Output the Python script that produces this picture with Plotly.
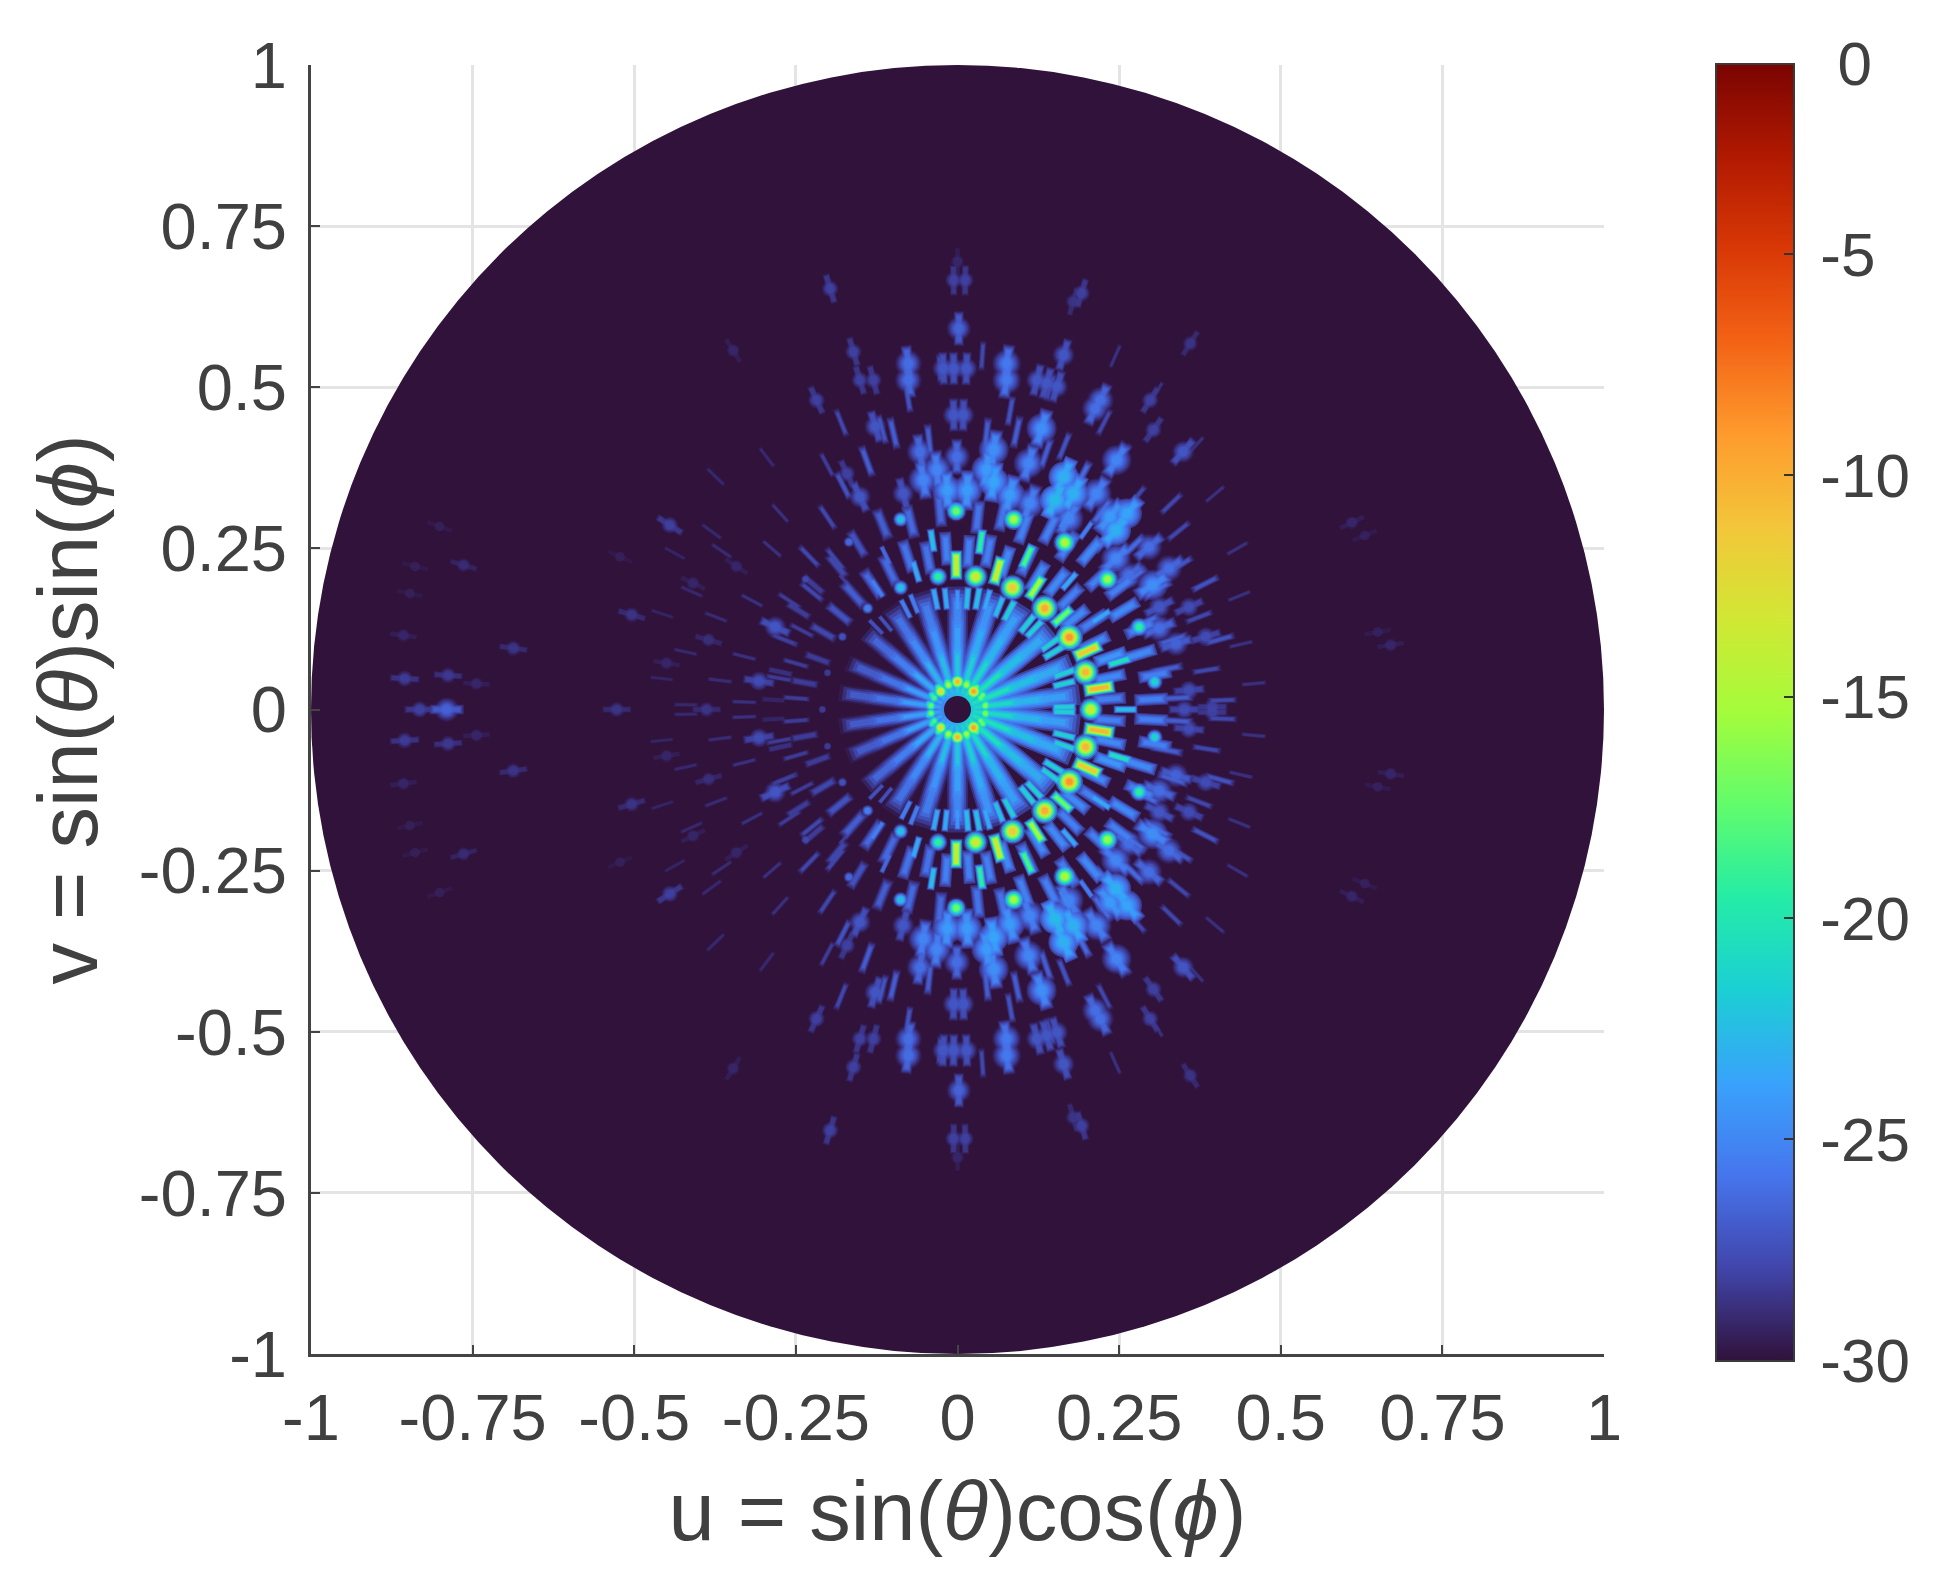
import numpy as np
import plotly.graph_objects as go

# ---- values: upper half only (v >= 0), the pattern mirrors about v = 0
# round lobes: u, v, level in dB
spot_u = [-.002, .087, .166, .232, .281, .305, -.088, -.168, -.235,
          -.030, .028, .085, .135, .173, .198, .206, -.088, -.139, -.178, -.201, -.209]
spot_v = [.308, .295, .259, .202, .128, .043, .295, .260, .202,
          .206, .206, .189, .157, .112, .058, 0, .189, .157, .113, .057, 0]
spot_db = [-17, -15, -14.5, -15.5, -19, -21, -22, -26, -27.5,
           -19, -13, -11, -9.5, -8.5, -10, -13, -22, -25, -27, -28, -28]

# small lobes stretched along the radius
streak_u = [-.002, -.039, .036, .108, .062, .121, .173, .222, .162, .201, .250, .219, .260, .199, .166,
            -.064, -.111, -.124, -.173,
            -.034, -.018, 0, .015, .031, .046, .064, .080, .108, .119, .144, .149, .165, .165, .165,
            -.067, -.080, -.111, -.126]
streak_v = [.224, .262, .260, .237, .215, .189, .199, .144, .144, .091, .074, .033, 0, .278, .295,
            .214, .239, .188, .198,
            .171, .172, .170, .172, .172, .170, .159, .153, .133, .125, .102, .089, .056, .040, .004,
            .164, .156, .133, .128]
streak_db = [-13, -22, -19, -18, -13, -15, -23, -23, -17, -11, -20, -10, -22, -25, -25,
             -23, -26, -25, -28,
             -23, -23, -24, -22, -22, -23, -22, -21, -21, -21, -21, -21, -21, -21, -21,
             -25, -25, -27, -27]

# bright ring around the null at the centre
ring_u = [0, .025, -.026, .043, -.041, -.014, .014, .036, -.036,
          .044, .039, .029, .015, -.015, -.029, -.039, -.044]
ring_v = [.043, .028, .028, .006, .006, .038, .038, .018, .018,
          .008, .022, .034, .042, .042, .034, .022, .008]
ring_db = [-10, -9, -12, -16, -17, -15, -15, -17, -18,
           -18, -17, -17, -18, -18, -18, -19, -20]

# rays leaving the centre: angle in degrees from +u, level in dB
ray_angle = [7, 22, 40, 58, 73, 90, 107, 123, 140, 157, 172]
ray_db = [-23, -22.5, -22.5, -23, -23.5, -24, -24.5, -25, -25.5, -26, -26]

# faint side lobes further out
blob_u = [0, -.006, .012, .002, -.076, -.076, .076, .076, -.022, -.006, .014, -.197, .192, .179, .360,
          .221, .213, .164, .138, .123, .154, -.218, -.127, -.006, .009, .130, -.161, -.151, -.130,
          .349, .298, .303, -.058, -.053, -.001, .056, .045, .056, .110, .164, .151, .179, .246, .215,
          .262, .236, -.032, -.151, -.171, -.084, -.016, .015, .081, .112, .172,
          .245, .245, .296, .327, .302, .265, .338, .312, .358, .351, .358, .394, .384, .312,
          -.445, -.504, -.527, -.385, -.388, -.450, -.282, -.307, -.342, -.409, -.522,
          -.764, -.790, -.832, -.855, -.788, -.687, -.857, -.744, -.839, -.801, -.847,
          .61, .67, .63, .65, -.347]
blob_v = [.695, .666, .666, .591, .537, .511, .537, .511, .529, .529, .529, .653, .646, .633, .568,
          .480, .467, .550, .506, .511, .501, .480, .439, .457, .457, .436, .555, .511, .511,
          .400, .480, .434, .400, .356, .392, .403, .372, .353, .382, .361, .325, .335, .387, .335,
          .304, .299, .372, .330, .366, .335, .340, .340, .333, .320, .296,
          .278, .234, .252, .219, .193, .208, .102, .159, .159, 0, .030, .004, .113, .126,
          .286, .147, 0, .108, 0, .072, .128, .044, .222, .196, .237,
          .224, 0, 0, .048, .053, .095, .115, .040, .222, .284, .180,
          .29, .10, .27, .12, .557]
blob_db = [-29, -28, -28, -26.5, -26, -26, -25.5, -25.5, -27, -27, -27, -28, -28, -28.5, -28.5,
           -26, -26, -27, -27, -27, -27, -28, -27, -27, -27, -24.5, -28, -28, -28,
           -27, -28, -28, -26, -25, -26, -24.5, -24, -23.5, -25, -23, -22.5, -23, -25, -25,
           -23.5, -24, -25, -27, -28, -27, -24, -24, -24, -25, -25,
           -23, -25, -26, -26, -24.5, -26, -26.5, -27, -27.5, -27.5, -27.5, -28, -27.5, -26,
           -28, -28.5, -28.5, -28.7, -28.5, -29, -27, -27.5, -29, -29, -29.3,
           -28.8, -26.5, -28, -28.2, -28.3, -28.5, -29, -29, -29.3, -29.3, -29.3,
           -29, -29, -29.2, -29.2, -29]

# thin radial streaks across the fan: angle in degrees, radius, level in dB
fan_angle = [2, 9, 15, 21, 27, 33, 39, 44, 50, 57, 63, 68, 74, 80, 86, 93, 99, 105, 112, 118,
             3, 11, 18, 25, 31, 37, 43, 49, 54, 62, 71, 78, 84, 96, 103, 110, 117, 124,
             129, 134, 141, 147, 153, 158, 164, 170, 176, 132, 139, 146, 152, 159, 166, 173, 178,
             127, 136, 144, 151, 156, 162, 168, 174, 179, 5, 13, 22, 30, 40, 48, 58, 66]
fan_r = [.41, .39, .42, .40, .43, .41, .44, .46, .43, .47, .50, .44, .52, .47, .55, .53, .49, .45, .48, .43,
         .34, .33, .35, .32, .36, .34, .37, .35, .38, .41, .42, .44, .43, .42, .44, .41, .39, .36,
         .30, .33, .29, .31, .27, .29, .26, .28, .25, .41, .38, .44, .36, .40, .34, .37, .33,
         .49, .52, .47, .50, .45, .48, .43, .46, .42, .46, .45, .47, .50, .52, .55, .58, .60]
fan_db = [-27.5, -27.5, -27, -27.5, -27, -27, -27.5, -27.5, -27.5, -28, -27.5, -27, -27.5, -27, -27.5, -27.5, -27, -27, -27.5, -28,
          -26.5, -26.5, -26.5, -26, -26, -26, -26, -26, -26, -26, -26.5, -26.5, -26.5, -26.5, -26.5, -26.5, -27, -27.5,
          -27.5, -27.5, -27.5, -28, -28, -28, -28, -28, -28, -28.5, -28.5, -28.7, -28.5, -28.7, -28.5, -28.7, -28.5,
          -28.8, -28.8, -28.8, -29, -28.8, -29, -28.8, -29, -28.8, -28.5, -28.5, -28.5, -28.5, -28.5, -28.5, -28.5, -28.5]

# streaks filling the gaps between the two bright rings and just outside them
mid_angle = [4, 12, 19, 26, 33, 38, 45, 52, 59, 65, 72, 79, 86, 94, 101, 108, 116, 124, 132, 141, 150, 160, 170,
             3, 10, 17, 24, 31, 37, 43, 50, 56, 63, 70, 77, 84, 95, 104, 112, 121, 130, 139, 148, 158, 168, 177]
mid_r = [.235, .24, .25, .235, .25, .23, .245, .25, .24, .255, .24, .25, .245, .25, .24, .25, .24, .235, .24, .235, .24, .23, .24,
         .30, .31, .295, .31, .30, .315, .30, .32, .305, .315, .30, .31, .30, .31, .30, .31, .30, .29, .295, .29, .285, .28, .285]
mid_db = [-25, -24.5, -24, -24.5, -25, -24.5, -25, -24.5, -24.5, -25, -24.5, -25, -25, -25, -25.5, -25.5, -26, -26, -26.5, -27, -27.5, -28, -28,
          -25, -25, -24.5, -25, -24.5, -25, -25, -24.5, -25, -25, -25, -25.5, -25.5, -26, -26, -26.5, -27, -27.5, -28, -28, -28.5, -28.5, -29]

ticks = [-1, -.75, -.5, -.25, 0, .25, .5, .75, 1]
tick_text = ["-1", "-0.75", "-0.5", "-0.25", "0", "0.25", "0.5", "0.75", "1"]
# the top of the bar sits just below the 0 dB position in the reference
bar_top = -0.7
cbar_ticks = [-30, -25, -20, -15, -10, -5, bar_top]
cbar_text = ["\u2009-30", "\u2009-25", "\u2009-20", "\u2009-15", "\u2009-10", "\u2009-5", "\u2009 0"]

col_text = "#404040"
col_grid = "#e4e4e4"
font = "Liberation Sans"

# ---- every lobe falls off in dB, so draw it as nested marks
round_drops = [0, 1, 2, 3.5, 5, 7, 9, 12, 15, 18]
round_scale = [.28, .36, .45, .55, .65, .76, .88, 1.02, 1.16, 1.3]
blob_drops = [0, .6, 1.2, 1.8, 2.4, 3, 3.6, 4.2]
blob_scale = [.35, .47, .58, .68, .78, .88, .98, 1.08]
fan_drops = [0, .7, 1.4, 2.1, 2.8]
fan_scale = [.4, .6, .8, 1, 1.2]

pts = []  # u, v, value, symbol, size, line width, angle


def add_round(u, v, db, base, drops, scale):
    for uu, vv, d in zip(u, v, db):
        for vs in {vv, -vv}:
            for dr, sc in zip(drops, scale):
                if d - dr > -29.8:
                    pts.append((uu, vs, d - dr, "circle", base * sc, 0, 0))


def add_dash(u, v, db, length, width, drops, scale):
    for uu, vv, d in zip(u, v, db):
        for vs in {vv, -vv}:
            ang = np.degrees(np.arctan2(uu, vs))
            for dr, sc in zip(drops, scale):
                if d - dr > -29.8:
                    pts.append((uu, vs, d - dr, "line-ns", length * (sc * .5 + .5), width * sc, ang))


def polar(r, angle):
    a = np.radians(angle)
    return np.array(r) * np.cos(a), np.array(r) * np.sin(a)


add_round(blob_u, blob_v, blob_db, 28, blob_drops, blob_scale)
add_dash(blob_u, blob_v, np.array(blob_db) - .3, 28, 13, blob_drops, blob_scale)
add_round(spot_u, spot_v, spot_db, 21, round_drops, round_scale)
add_round(ring_u, ring_v, ring_db, 13, round_drops, round_scale)
add_dash(streak_u, streak_v, streak_db, 20, 11, round_drops, round_scale)

fan_x, fan_y = polar(fan_r, fan_angle)
add_dash(fan_x, fan_y, fan_db, 22, 7, fan_drops, fan_scale)
mid_x, mid_y = polar(mid_r, mid_angle)
add_dash(mid_x, mid_y, mid_db, 22, 10, fan_drops, fan_scale)

# rays: a narrow inner part and wider outer parts
ray_bands = [(.055, 40, 9, 2.5), (.09, 50, 14, .5), (.13, 52, 18, -.5)]
for r, length, width, boost in ray_bands:
    ray_x, ray_y = polar(r, ray_angle)
    add_dash(ray_x, ray_y, np.array(ray_db) + boost, length, width,
             [0, 1, 2, 3, 4], [.35, .55, .75, .95, 1.15])

pts.sort(key=lambda p: p[2])
p_u, p_v, p_val, p_sym, p_size, p_lw, p_ang = zip(*pts)

fig = go.Figure()
fig.add_shape(type="circle", xref="x", yref="y", x0=-1, x1=1, y0=-1, y1=1,
              fillcolor="#30123b", line=dict(width=0), layer="between")

fig.add_trace(go.Scatter(
    x=p_u, y=p_v, mode="markers", showlegend=False, hoverinfo="skip",
    marker=dict(
        symbol=list(p_sym), size=list(p_size), angle=list(p_ang),
        color=list(p_val), colorscale="Turbo", cmin=-30, cmax=bar_top,
        line=dict(color=list(p_val), colorscale="Turbo", cmin=-30, cmax=bar_top, width=list(p_lw)),
        colorbar=dict(
            x=(1708 - 303) / 1293, xanchor="left", xpad=0, y=0.498, yanchor="middle", len=1.006, ypad=0,
            thickness=78, outlinecolor="#3a3a3a", outlinewidth=2,
            ticks="inside", ticklen=11, tickwidth=2, tickcolor="#333333",
            tickvals=cbar_ticks, ticktext=cbar_text,
            tickfont=dict(family=font, size=62, color=col_text),
        ),
    ),
))

# dark null in the middle of the pattern
fig.add_trace(go.Scatter(x=[0], y=[0], mode="markers", showlegend=False, hoverinfo="skip",
                         marker=dict(size=27, color=[-30], colorscale="Turbo", cmin=-30, cmax=bar_top)))

axis = dict(range=[-1, 1], tickvals=ticks, ticktext=tick_text, showgrid=True, gridcolor=col_grid, gridwidth=2.5,
            zeroline=False, showline=True, linecolor="#444444", linewidth=3, ticks="inside", ticklen=9,
            tickwidth=2, tickcolor="#444444", tickfont=dict(family=font, size=65, color=col_text),
            mirror=False)
fig.update_xaxes(**axis, ticklabelstandoff=5,
                 title=dict(text="u = sin(<i>θ</i>)cos(<i>ϕ</i>)", standoff=29,
                            font=dict(family=font, size=83, color=col_text)))
fig.update_yaxes(**axis, ticklabelstandoff=8,
                 title=dict(text="v = sin(<i>θ</i>)sin(<i>ϕ</i>)", standoff=14,
                            font=dict(family=font, size=83, color=col_text)))

# the page has a body margin of 8 px, taken off here
fig.update_layout(width=1947, height=1592, paper_bgcolor="white", plot_bgcolor="white",
                  margin=dict(l=303, r=351, t=57, b=246, autoexpand=False))

fig.write_html("out.html")
